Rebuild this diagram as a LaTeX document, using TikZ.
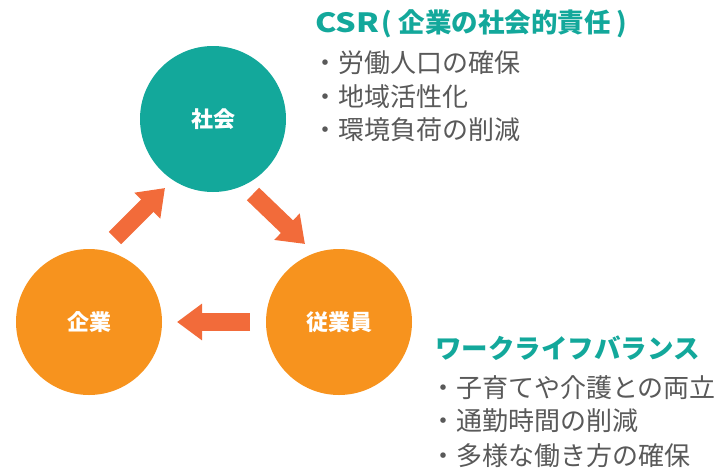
\documentclass[tikz,border=0pt]{standalone}
\usepackage{fontspec}
\usepackage{graphicx}
\setmainfont{Noto Sans CJK JP}
\usetikzlibrary{arrows.meta,calc}
\definecolor{teal1}{HTML}{13A89B}
\definecolor{orange1}{HTML}{F7931E}
\definecolor{arrowc}{HTML}{F26B3A}
\definecolor{gray1}{HTML}{595959}
\begin{document}
\begin{tikzpicture}[x=1pt,y=-1pt,
  circ/.style={circle,minimum size=146pt,inner sep=0pt,text=white,font=\fontsize{22}{26}\selectfont\bfseries},
  blockarrow/.style={draw=arrowc,line width=17.5pt,-{Triangle[width=35pt,length=25pt]},arrowc},
  heading/.style={anchor=west,inner sep=0pt,text=teal1,font=\fontsize{26.5}{30}\selectfont\bfseries},
  item/.style={anchor=west,inner sep=0pt,text=gray1,font=\fontsize{26}{30}\selectfont}]
\useasboundingbox (0,0) rectangle (723,469);
\node[circ,fill=teal1] (shakai) at (213,119) {社会};
\node[circ,fill=orange1] (kigyo) at (89,322) {企業};
\node[circ,fill=orange1] (jugyoin) at (339,322) {従業員};
% arrows
\coordinate (a1s) at ($(kigyo)+(26,-84)$);
\coordinate (a1e) at ($(shakai)+(-48,69)$);
\coordinate (a2s) at ($(shakai)+(40,75)$);
\coordinate (a2e) at ($(jugyoin)+(-34,-78)$);
\coordinate (a3s) at ($(jugyoin)+(-89,0)$);
\coordinate (a3e) at ($(kigyo)+(88,0)$);
\draw[blockarrow] (a1s) -- (a1e);
\draw[blockarrow] (a2s) -- (a2e);
\draw[blockarrow] (a3s) -- (a3e);
% texts
\node[heading] (csr) at (315,24) {\scalebox{1.22}[1]{CSR}\kern2pt(\kern7pt 企業の社会的責任\kern6pt)};
\node[item] (c1) at (312,63) {・労働人口の確保};
\node[item] (c2) at (312,97) {・地域活性化};
\node[item] (c3) at (312,130) {・環境負荷の削減};
\node[heading] (wlb) at (435,348) {ワークライフバランス};
\node[item] (w1) at (430,388) {・子育てや介護との両立};
\node[item] (w2) at (430,421) {・通勤時間の削減};
\node[item] (w3) at (430,456) {・多様な働き方の確保};
\end{tikzpicture}
\end{document}
